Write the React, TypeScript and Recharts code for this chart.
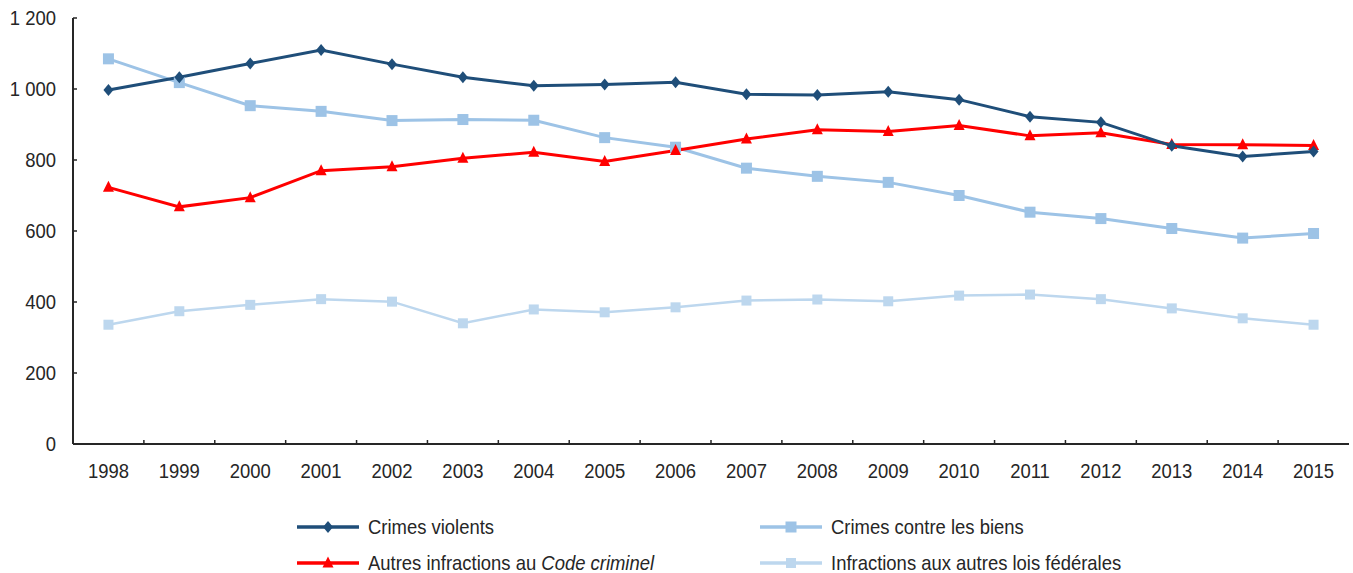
import type { ReactNode } from 'react';
import { Legend, Line, LineChart, XAxis, YAxis } from 'recharts';

const years = [
	'1998', '1999', '2000', '2001', '2002', '2003', '2004', '2005', '2006',
	'2007', '2008', '2009', '2010', '2011', '2012', '2013', '2014', '2015',
];
const crimesViolents = [
	997, 1033, 1072, 1110, 1070, 1033, 1009, 1013, 1019, 985, 983, 992, 970, 922, 906, 840, 810, 824,
];
const crimesBiens = [
	1085, 1018, 953, 937, 911, 914, 912, 863, 836, 777, 754, 737, 700, 653, 635, 607, 580, 593,
];
const autresCode = [
	723, 668, 694, 770, 781, 805, 822, 796, 827, 859, 885, 880, 897, 868, 877, 844, 843, 841,
];
const autresLois = [
	336, 374, 392, 408, 401, 340, 379, 371, 385, 404, 407, 402, 418, 421, 408, 382, 354, 336,
];
const yTicks = [0, 200, 400, 600, 800, 1000, 1200];

const W = 1353;
const H = 573;
const LEFT = 73;
const RIGHT = 4;
const FONT = '"Liberation Sans", Arial, sans-serif';
const FONT_SIZE = 20.5;
const NARROW = 0.9;
const INK = '#262626';
const HALF_BAND = (W - LEFT - RIGHT) / years.length / 2;

const data = years.map((year, i) => ({
	year,
	violents: crimesViolents[i],
	biens: crimesBiens[i],
	code: autresCode[i],
	lois: autresLois[i],
}));

type Marker = 'diamond' | 'square' | 'triangle';

const series: { key: string; color: string; width: number; marker: Marker; size: number }[] = [
	{ key: 'lois', color: '#BDD7EE', width: 2.5, marker: 'square', size: 10 },
	{ key: 'biens', color: '#9DC3E6', width: 3, marker: 'square', size: 11 },
	{ key: 'code', color: '#FF0000', width: 3, marker: 'triangle', size: 11 },
	{ key: 'violents', color: '#1F4E79', width: 3, marker: 'diamond', size: 11 },
];

const legendItems: { key: string; parts: { text: string; italic?: boolean }[]; col: number; row: number }[] = [
	{ key: 'violents', parts: [{ text: 'Crimes violents' }], col: 0, row: 0 },
	{ key: 'biens', parts: [{ text: 'Crimes contre les biens' }], col: 1, row: 0 },
	{
		key: 'code',
		parts: [{ text: 'Autres infractions au ' }, { text: 'Code criminel', italic: true }],
		col: 0,
		row: 1,
	},
	{ key: 'lois', parts: [{ text: 'Infractions aux autres lois fédérales' }], col: 1, row: 1 },
];

// condensed label: regular sans squeezed horizontally around its anchor point
const NarrowText = (props: { x: number; y: number; anchor?: 'start' | 'middle' | 'end'; children: ReactNode }) => (
	<text
		transform={`translate(${props.x} ${props.y}) scale(${NARROW} 1)`}
		textAnchor={props.anchor ?? 'start'}
		fill={INK}
		fontFamily={FONT}
		fontSize={FONT_SIZE}
	>
		{props.children}
	</text>
);

const drawMarker = (type: Marker, cx: number, cy: number, size: number, color: string, key?: string | number) => {
	const h = size / 2;
	if (type === 'diamond') {
		return (
			<polygon
				key={key}
				points={`${cx},${cy - h - 0.5} ${cx + h - 0.5},${cy} ${cx},${cy + h + 0.5} ${cx - h + 0.5},${cy}`}
				fill={color}
			/>
		);
	}
	if (type === 'triangle') {
		return (
			<polygon
				key={key}
				points={`${cx},${cy - h - 1} ${cx + h},${cy + h - 1} ${cx - h},${cy + h - 1}`}
				fill={color}
			/>
		);
	}
	return <rect key={key} x={cx - h} y={cy - h} width={size} height={size} fill={color} />;
};

const dotFor = (type: Marker, size: number, color: string) => (props: any) =>
	drawMarker(type, props.cx, props.cy, size, color, props.index);

const XTick = (props: any) => {
	const { x, y, payload, index } = props;
	const half = typeof payload.offset === 'number' && payload.offset > 0 ? payload.offset : HALF_BAND;
	return (
		<g>
			{index > 0 && (
				<line x1={x - half} x2={x - half} y1={y} y2={y - 4} stroke={INK} strokeWidth={1.5} />
			)}
			<NarrowText x={x} y={y + 34} anchor="middle">
				{payload.value}
			</NarrowText>
		</g>
	);
};

const YTick = (props: any) => {
	const { x, y, payload, index } = props;
	const label = String(payload.value).replace(/\B(?=(\d{3})+(?!\d))/g, ' ');
	return (
		<g>
			{index > 0 && <line x1={x} x2={x + 4} y1={y} y2={y} stroke={INK} strokeWidth={1.5} />}
			<NarrowText x={x - 17} y={y + 7} anchor="end">
				{label}
			</NarrowText>
		</g>
	);
};

const LegendBox = () => {
	const cols = [297, 760];
	const rows = [22, 58];
	return (
		<svg width={W} height={75}>
			{legendItems.map((item) => {
				const s = series.find((d) => d.key === item.key)!;
				const x0 = cols[item.col];
				const y = rows[item.row];
				return (
					<g key={item.key}>
						<line x1={x0} x2={x0 + 62} y1={y} y2={y} stroke={s.color} strokeWidth={3.5} />
						{drawMarker(s.marker, x0 + 31, y, s.size, s.color)}
						<NarrowText x={x0 + 71} y={y + 7}>
							{item.parts.map((p, i) => (
								<tspan key={i} fontStyle={p.italic ? 'italic' : 'normal'}>
									{p.text}
								</tspan>
							))}
						</NarrowText>
					</g>
				);
			})}
		</svg>
	);
};

export default function App() {
	return (
		<div style={{ position: 'absolute', left: 0, top: 0, width: W, height: H, background: '#fff' }}>
			<LineChart data={data} width={W} height={H} margin={{ top: 18, right: RIGHT, bottom: 89, left: 0 }}>
				<XAxis
					dataKey="year"
					scale="band"
					height={40}
					interval={0}
					tickSize={0}
					tickMargin={0}
					tickLine={false}
					axisLine={{ stroke: INK, strokeWidth: 2 }}
					tick={<XTick />}
				/>
				<XAxis
					xAxisId="top"
					dataKey="year"
					scale="band"
					orientation="top"
					height={0}
					tick={false}
					tickLine={false}
					axisLine={{ stroke: '#111', strokeWidth: 1.5 }}
				/>
				<YAxis
					domain={[0, 1200]}
					ticks={yTicks}
					width={LEFT}
					tickSize={0}
					tickMargin={0}
					tickLine={false}
					axisLine={{ stroke: INK, strokeWidth: 2 }}
					tick={<YTick />}
				/>
				<YAxis
					yAxisId="right"
					orientation="right"
					domain={[0, 1200]}
					width={0}
					tick={false}
					tickLine={false}
					axisLine={{ stroke: '#111', strokeWidth: 2 }}
				/>
				<Legend
					layout="horizontal"
					verticalAlign="middle"
					align="center"
					wrapperStyle={{ left: 0, top: 505, width: W, height: 75 }}
					content={<LegendBox />}
				/>
				{series.map((s) => (
					<Line
						key={s.key}
						dataKey={s.key}
						type="linear"
						stroke={s.color}
						strokeWidth={s.width}
						dot={dotFor(s.marker, s.size, s.color)}
						activeDot={false}
						isAnimationActive={false}
					/>
				))}
			</LineChart>
		</div>
	);
}
